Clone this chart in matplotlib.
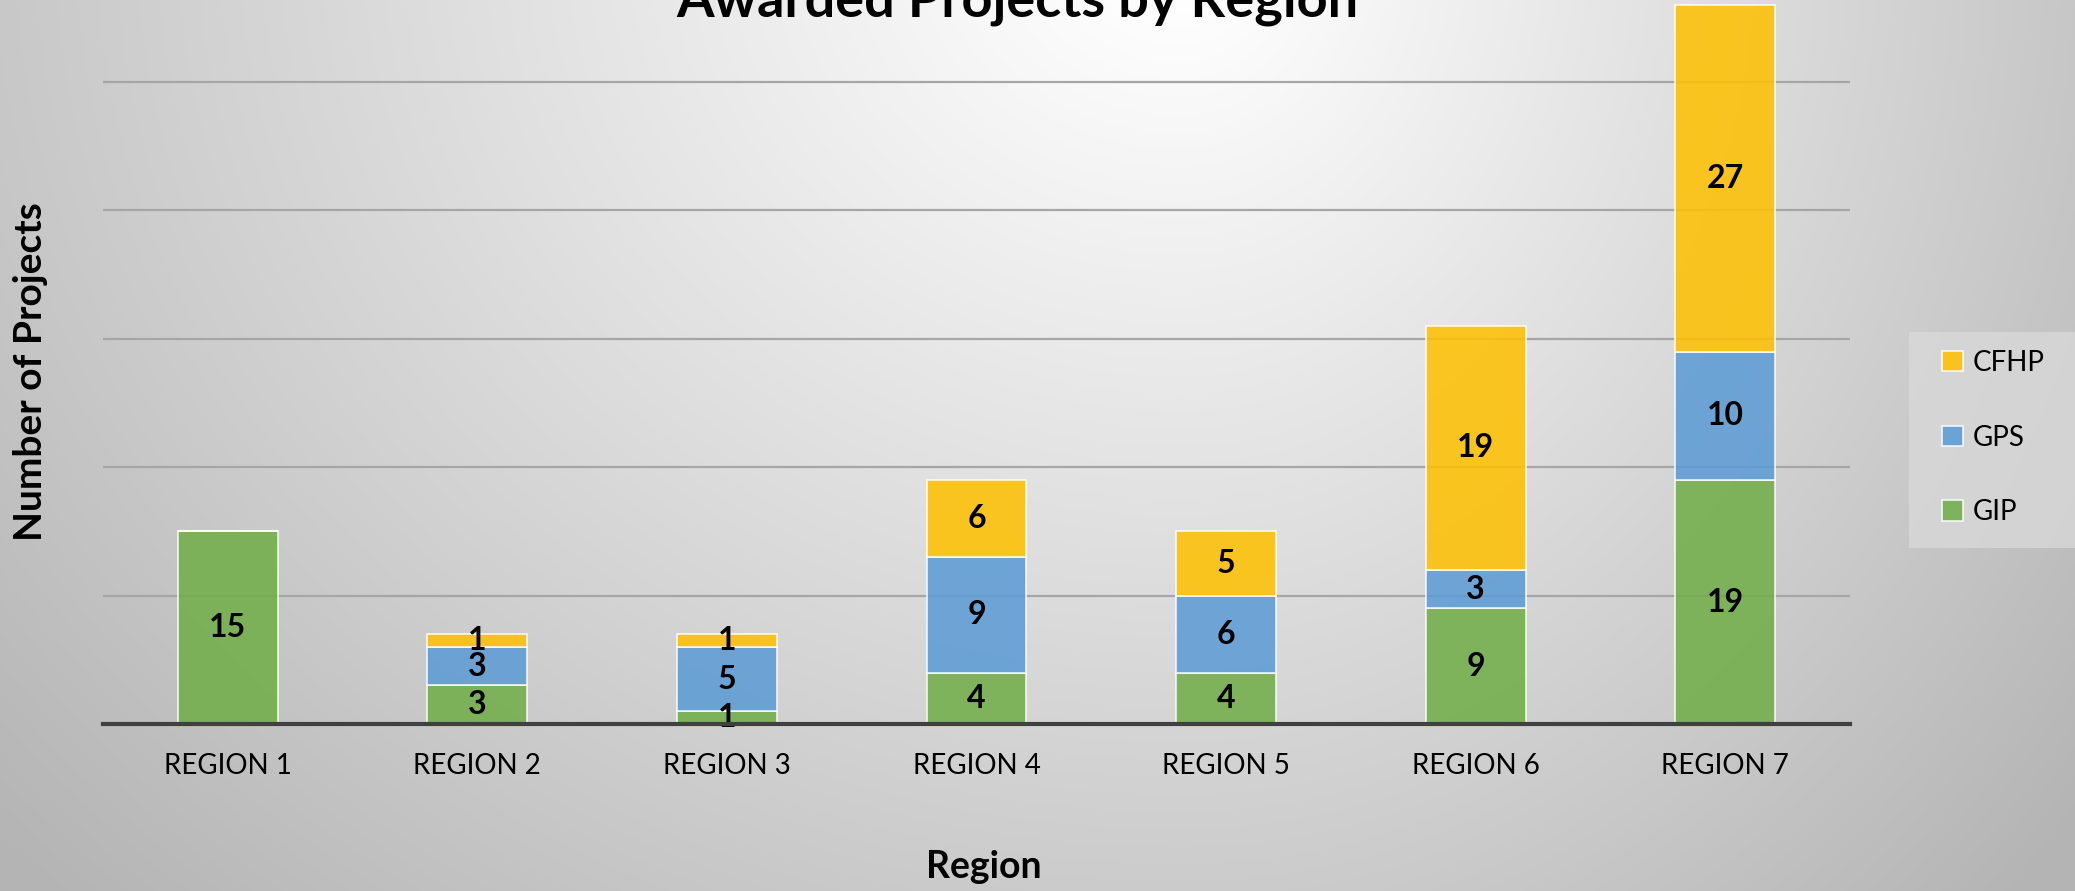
import numpy as np
import matplotlib
matplotlib.use("Agg")
import matplotlib.pyplot as plt
from matplotlib.patches import Rectangle

plt.rcParams['font.family'] = ['Lato', 'DejaVu Sans']

regions = ["REGION 1", "REGION 2", "REGION 3", "REGION 4", "REGION 5", "REGION 6", "REGION 7"]
gip = [15, 3, 1, 4, 4, 9, 19]
gps = [0, 3, 5, 9, 6, 3, 10]
cfhp = [0, 1, 1, 6, 5, 19, 27]

series_names = ["GIP", "GPS", "CFHP"]
series_colors = ["#70AD47", "#5B9BD5", "#FFC000"]

W, H = 2075, 891
fig = plt.figure(figsize=(W / 100, H / 100), dpi=100)

# background gradient
bg = fig.add_axes([0, 0, 1, 1], zorder=-10)
yy, xx = np.mgrid[0:H, 0:W]
cx, cy = 1180.0, -60.0
sx = np.where(xx < cx, 1350.0, 1000.0)
d = np.sqrt(((xx - cx) / sx) ** 2 + ((yy - cy) / 1150.0) ** 2)
v = np.clip(258 - 66 * d, 180, 255) / 255.0
bg.imshow(np.dstack([v, v, v]), aspect='auto', extent=[0, W, H, 0], interpolation='bilinear')
bg.set_xlim(0, W)
bg.set_ylim(H, 0)
bg.axis('off')

# legend box
fig.patches.append(Rectangle((1909 / W, (H - 548) / H), 0.2, (548 - 332) / H,
                             transform=fig.transFigure, facecolor="#dadada",
                             edgecolor='none', alpha=0.75, zorder=-5))

left = 103 / W
right = 1850 / W
bottom = (H - 724) / H
ymax = 60
px_per_unit = 12.84
height = ymax * px_per_unit / H
ax = fig.add_axes([left, bottom, right - left, height])
ax.set_facecolor('none')

x = np.arange(len(regions))
bw = 0.40
base = np.zeros(len(regions))
handles = []
for name, vals, col in zip(series_names, [gip, gps, cfhp], series_colors):
    vals = np.array(vals, dtype=float)
    bars = ax.bar(x, vals, bw, bottom=base, color=col, alpha=0.86,
                  edgecolor='white', linewidth=1.2, zorder=3, label=name)
    handles.append(bars)
    for xi, b, v_ in zip(x, base, vals):
        if v_ > 0:
            ax.text(xi, b + v_ / 2, f"{int(v_)}", ha='center', va='center',
                    fontsize=23, fontweight='bold', color='black', zorder=5)
    base = base + vals

ax.set_xlim(-0.5, len(regions) - 0.5)
ax.set_ylim(0, ymax)
ax.set_yticks(np.arange(10, ymax + 1, 10))
ax.yaxis.grid(True, color='#a6a6a6', linewidth=1.6, zorder=0)
ax.set_axisbelow(True)
ax.tick_params(axis='y', left=False, labelleft=False)
ax.set_xticks(x)
ax.set_xticklabels(regions, fontsize=20)
ax.tick_params(axis='x', length=0, pad=21)
for s in ['top', 'right', 'left']:
    ax.spines[s].set_visible(False)
ax.spines['bottom'].set_color('#404040')
ax.spines['bottom'].set_linewidth(3)
ax.spines['bottom'].set_zorder(6)

fig.text(984 / W, 1 - 867 / H, "Region", ha='center', va='center',
         fontsize=27, fontweight='bold')
fig.text(31 / W, 1 - 372 / H, "Number of Projects", ha='center', va='center',
         rotation=90, fontsize=28, fontweight='bold')
fig.text(1017 / W, 1 - 17 / H, "Awarded Projects by Region", ha='center',
         va='baseline', fontsize=39, fontweight='bold')

leg = fig.legend(handles[::-1], series_names[::-1], loc='upper left',
                 bbox_to_anchor=(1942 / W, 1 - 350 / H), frameon=False,
                 fontsize=20, handlelength=0.75, handleheight=0.75,
                 handletextpad=0.35, labelspacing=1.75, borderpad=0,
                 borderaxespad=0)

fig.savefig("out.png", dpi=100)
